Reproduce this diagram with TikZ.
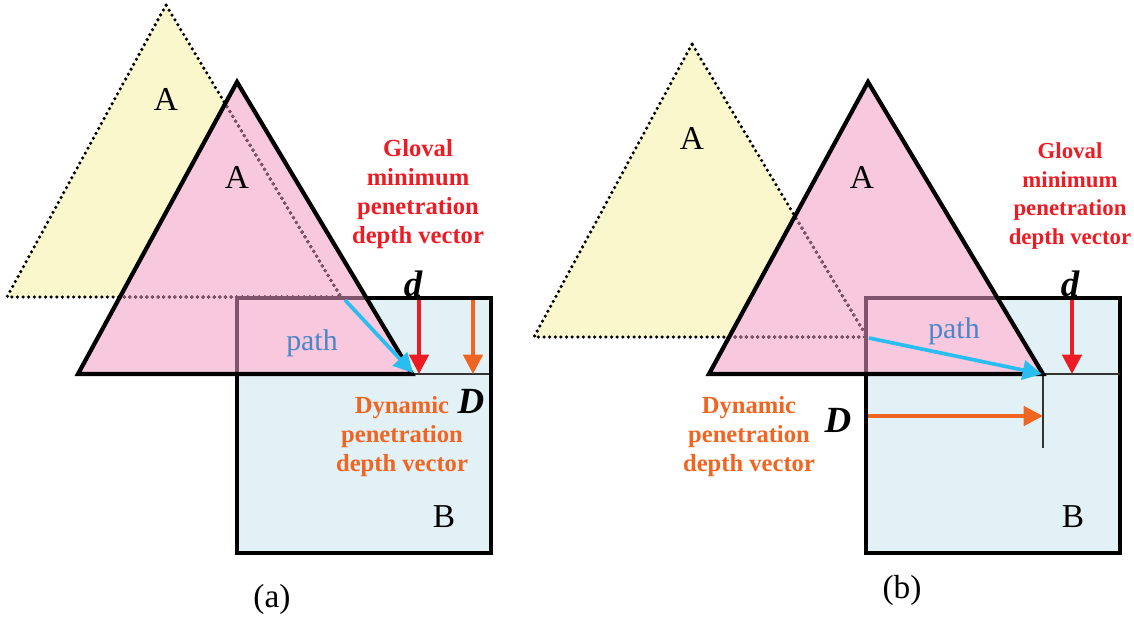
\documentclass[tikz,border=0pt]{standalone}
\usepackage{fontspec}
\setmainfont{Liberation Serif}
\usetikzlibrary{arrows.meta}
\definecolor{ayel}{RGB}{250,247,205}
\definecolor{apink}{RGB}{247,200,222}
\definecolor{bblue}{RGB}{226,241,246}
\definecolor{gred}{RGB}{237,28,36}
\definecolor{dorg}{RGB}{241,101,34}
\definecolor{pcyan}{RGB}{41,190,239}
\definecolor{ptext}{RGB}{74,134,200}
\definecolor{hidc}{RGB}{128,84,108}
\tikzset{
  tri/.style={draw=black,line width=2.4pt,line join=miter},
  ghost/.style={line width=2pt,dash pattern=on 0pt off 3.2pt,line cap=round},
  bbox/.style={draw=black,line width=2.2pt},
  thin/.style={draw=black!80,line width=0.7pt},
  vec/.style={-{Triangle[length=11pt,width=11pt]},line width=2.1pt},
  lbl/.style={font=\fontsize{19}{22}\selectfont},
  note/.style={align=center,font=\bfseries\fontsize{14}{16.5}\selectfont},
  sym/.style={font=\bfseries\itshape\fontsize{21}{24}\selectfont},
}

\begin{document}
\begin{tikzpicture}[x=0.02cm,y=-0.02cm]
\useasboundingbox (0,0) rectangle (1134,620);
\coordinate (ya_t) at (166,5);
\coordinate (ya_l) at (7,297);
\coordinate (ya_r) at (341,297);
\coordinate (pa_t) at (237,82);
\coordinate (pa_l) at (78,374);
\coordinate (pa_r) at (412,374);
\coordinate (ba_nw) at (237,298);
\coordinate (ba_se) at (491,553);
\coordinate (yb_t) at (692,44);
\coordinate (yb_l) at (534,337);
\coordinate (yb_r) at (867,337);
\coordinate (pb_t) at (868,82);
\coordinate (pb_l) at (709,374);
\coordinate (pb_r) at (1043,374);
\coordinate (bb_nw) at (866,298);
\coordinate (bb_se) at (1120,553);
\fill[ayel] (ya_t) -- (ya_l) -- (ya_r) -- cycle;
\fill[ayel] (yb_t) -- (yb_l) -- (yb_r) -- cycle;
\fill[bblue] (ba_nw) rectangle (ba_se);
\fill[bblue] (bb_nw) rectangle (bb_se);
\fill[apink] (pa_t) -- (pa_l) -- (pa_r) -- cycle;
\fill[apink] (pb_t) -- (pb_l) -- (pb_r) -- cycle;
\draw[ghost] (ya_t) -- (ya_l) -- (ya_r) -- cycle;
\draw[ghost] (yb_t) -- (yb_l) -- (yb_r) -- cycle;
\draw[bbox] (ba_nw) rectangle (ba_se);
\draw[bbox] (bb_nw) rectangle (bb_se);
\begin{scope}
\clip (pa_t) -- (pa_l) -- (pa_r) -- cycle;
\fill[apink] (ba_nw) rectangle (ba_se);
\draw[ghost,draw=hidc] (ya_t) -- (ya_l) -- (ya_r) -- cycle;
\draw[bbox,draw=hidc] (ba_nw) rectangle (ba_se);
\end{scope}
\begin{scope}
\clip (pb_t) -- (pb_l) -- (pb_r) -- cycle;
\fill[apink] (bb_nw) rectangle (bb_se);
\draw[ghost,draw=hidc] (yb_t) -- (yb_l) -- (yb_r) -- cycle;
\draw[bbox,draw=hidc] (bb_nw) rectangle (bb_se);
\end{scope}
\coordinate (la_e) at (489,374);
\coordinate (lb_e) at (1120,374);
\coordinate (lb_d) at (1043,448);
\draw[thin] (pa_r) -- (la_e);
\draw[thin] (pb_r) -- (lb_e);
\draw[thin] (pb_r) -- (lb_d);
\draw[tri] (pa_t) -- (pa_l) -- (pa_r) -- cycle;
\draw[tri] (pb_t) -- (pb_l) -- (pb_r) -- cycle;
\coordinate (ra_s) at (419,300);
\coordinate (ra_e) at (419,374);
\coordinate (oa_s) at (473,300);
\coordinate (oa_e) at (473,374);
\coordinate (ca_s) at (345,300);
\coordinate (ca_e) at (413,373);
\coordinate (rb_s) at (1072,300);
\coordinate (rb_e) at (1072,374);
\coordinate (ob_s) at (868,416);
\coordinate (ob_e) at (1043,416);
\coordinate (cb_s) at (869,338);
\coordinate (cb_e) at (1042,374);
\draw[vec,draw=pcyan,fill=pcyan] (ca_s) -- (ca_e);
\draw[vec,draw=gred,fill=gred] (ra_s) -- (ra_e);
\draw[vec,draw=dorg,fill=dorg] (oa_s) -- (oa_e);
\draw[vec,draw=pcyan,fill=pcyan] (cb_s) -- (cb_e);
\draw[vec,draw=gred,fill=gred] (rb_s) -- (rb_e);
\draw[vec,draw=dorg,fill=dorg] (ob_s) -- (ob_e);
\node[lbl] (A_ya) at (166,99) {A};
\node[lbl] (A_pa) at (237,177) {A};
\node[lbl] (B_a) at (444,517) {B};
\node[lbl] (A_yb) at (692,138) {A};
\node[lbl] (A_pb) at (862,177) {A};
\node[lbl] (B_b) at (1073,517) {B};
\node[lbl,text=ptext,font=\fontsize{17}{20}\selectfont] (path_a) at (312,343) {path};
\node[lbl,text=ptext,font=\fontsize{17}{20}\selectfont] (path_b) at (954,331) {path};
\node[note,text=gred] (glo_a) at (418,194) {Gloval\\minimum\\penetration\\depth vector};
\node[note,text=gred,font=\bfseries\fontsize{13}{16.5}\selectfont] (glo_b) at (1070,196) {Gloval\\minimum\\penetration\\depth vector};
\node[note,text=dorg] (dyn_a) at (402,437) {Dynamic\\penetration\\depth vector};
\node[note,text=dorg] (dyn_b) at (749,437) {Dynamic\\penetration\\depth vector};
\node[sym] (d_a) at (413,284) {d};
\node[sym] (D_a) at (471,401) {D};
\node[sym] (d_b) at (1070,284) {d};
\node[sym] (D_b) at (838,420) {D};
\node[lbl] (cap_a) at (272,599) {(a)};
\node[lbl] (cap_b) at (902,590) {(b)};
\end{tikzpicture}
\end{document}
